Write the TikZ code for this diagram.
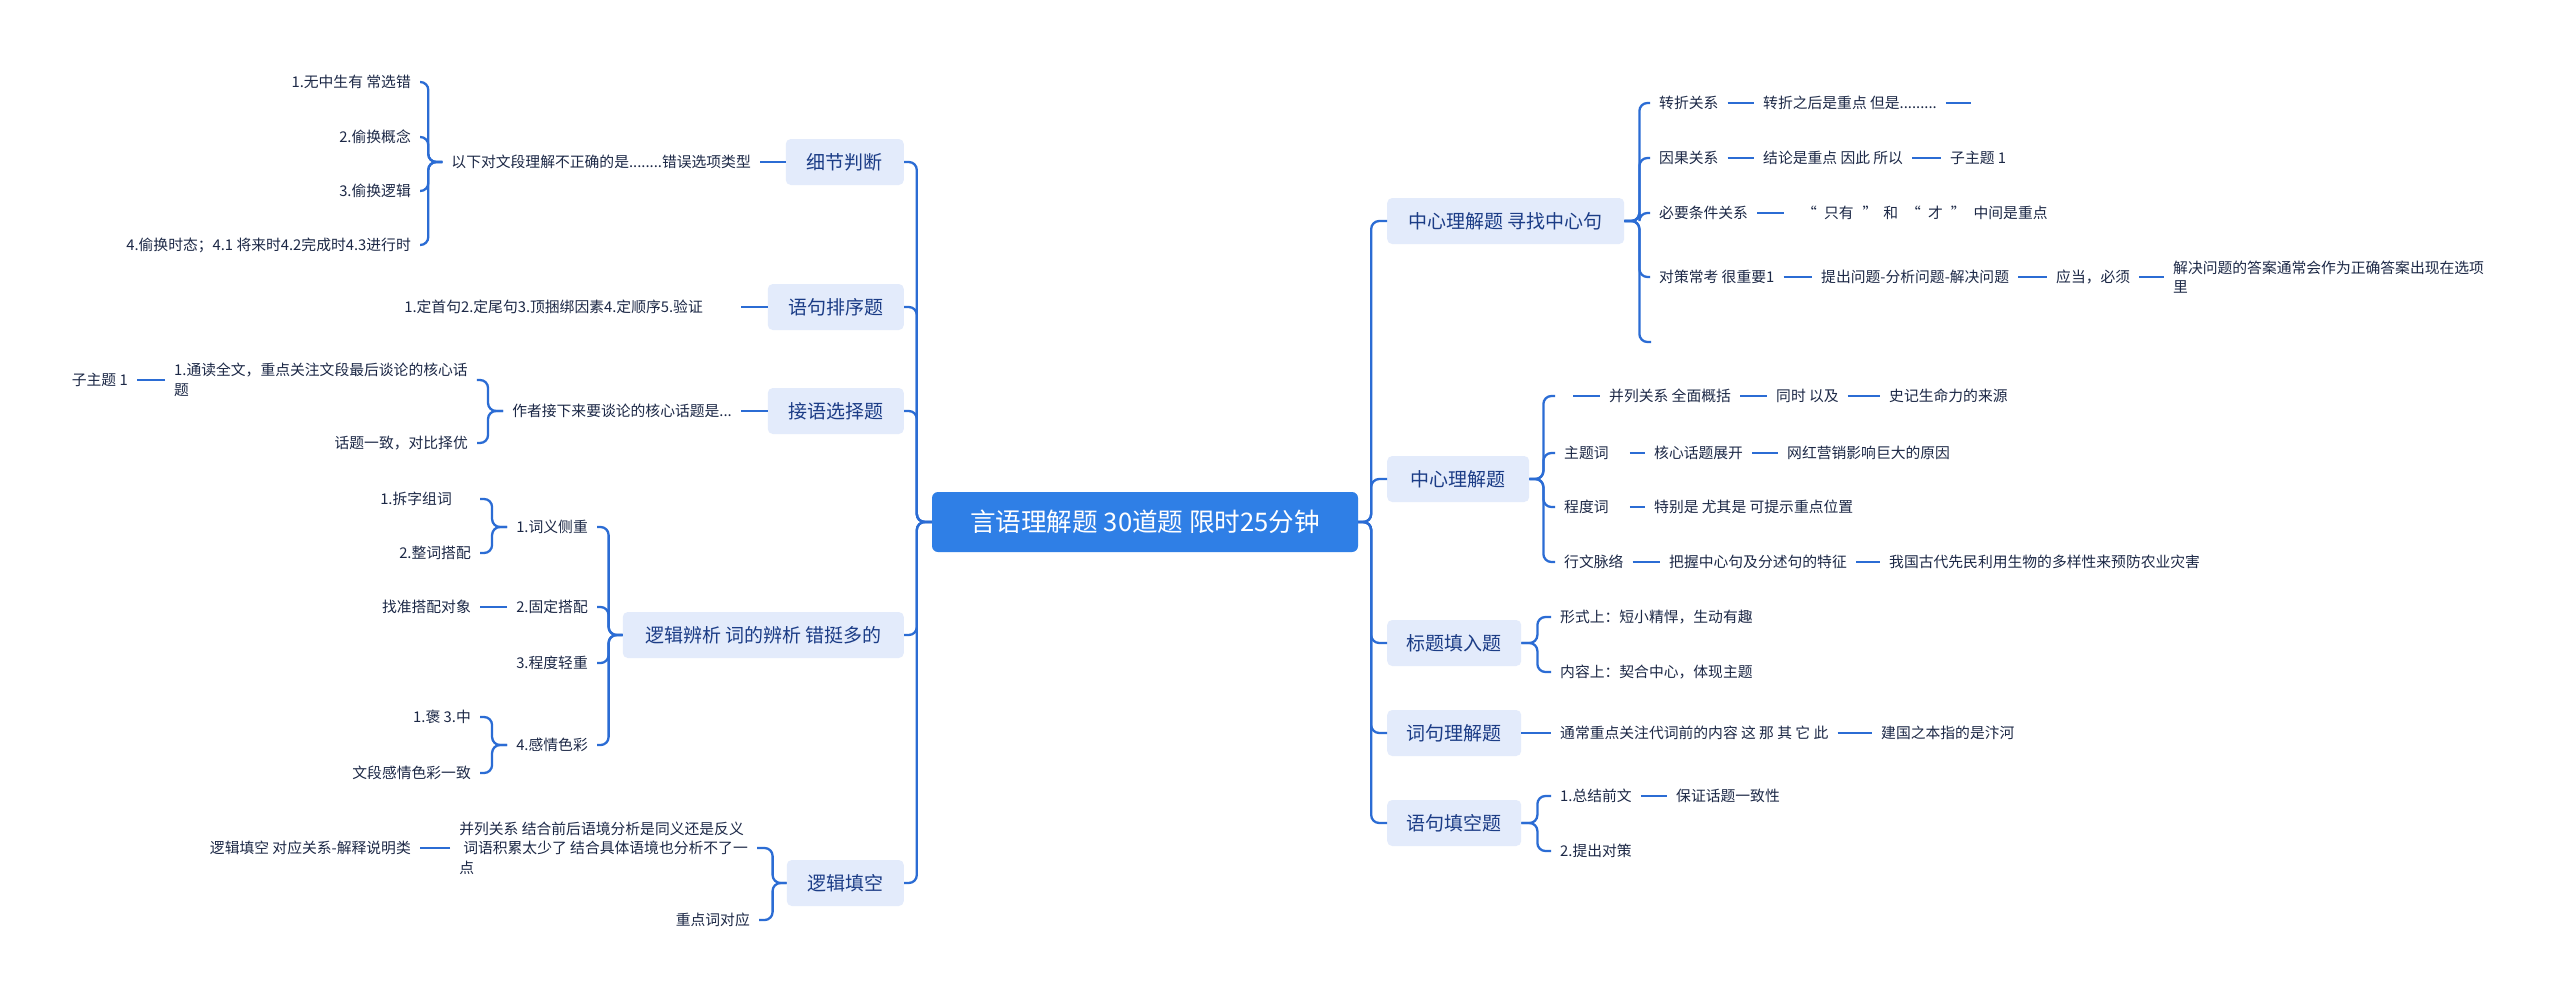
\documentclass[tikz,border=0pt]{standalone}
\usepackage{fontspec}
\setmainfont{Noto Sans CJK SC}
\definecolor{linec}{HTML}{2B6CD4}
\definecolor{boxc}{HTML}{E3EBFB}
\definecolor{rootc}{HTML}{2F7FE6}
\definecolor{mtxt}{HTML}{1B3C86}
\definecolor{txtc}{HTML}{1C2846}
\begin{document}
\begin{tikzpicture}[x=1pt,y=-1pt,
  tx/.style={font=\fontsize{14.8}{19.5}\selectfont, text=txtc, inner xsep=9pt, inner ysep=3pt},
  mbox/.style={fill=boxc, rounded corners=5pt, font=\fontsize{19}{22}\selectfont, text=mtxt, minimum height=46pt, inner xsep=4pt},
  rootbox/.style={fill=rootc, rounded corners=6pt, text=white, font=\fontsize{25.6}{30}\selectfont, minimum width=426pt, minimum height=60pt},
  conn/.style={draw=linec, line width=2.3pt, rounded corners=8pt},
  blank/.style={inner sep=0pt, minimum size=0pt}]
\useasboundingbox (0,0) rectangle (2560,999);
\fill[white] (0,0) rectangle (2560,999);

\node[rootbox] (root) at (1145,522) {言语理解题 30道题 限时25分钟};

% ---------------- left main boxes
\node[mbox, minimum width=118pt, anchor=east] (b1) at (904,162) {细节判断};
\node[mbox, minimum width=136pt, anchor=east] (b2) at (904,307) {语句排序题};
\node[mbox, minimum width=136pt, anchor=east] (b3) at (904,411) {接语选择题};
\node[mbox, minimum width=281pt, anchor=east] (b4) at (904,635) {逻辑辨析 词的辨析 错挺多的};
\node[mbox, minimum width=117pt, anchor=east] (b5) at (904,883) {逻辑填空};
\foreach \b in {b1,b2,b3,b4,b5} \draw[conn] (root.west) -- ++(-15,0) |- (\b.east);

% group b1
\node[tx, anchor=east] (l1) at (760,162) {以下对文段理解不正确的是........错误选项类型};
\draw[conn] (b1.west) -- (l1.east);
\node[tx, anchor=east] (l1a) at (420,82) {1.无中生有 常选错};
\node[tx, anchor=east] (l1b) at (420,137) {2.偷换概念};
\node[tx, anchor=east] (l1c) at (420,191) {3.偷换逻辑};
\node[tx, anchor=east] (l1d) at (420,245) {4.偷换时态；4.1 将来时4.2完成时4.3进行时};
\foreach \c in {l1a,l1b,l1c,l1d} \draw[conn] (l1.west) -- ++(-14,0) |- (\c.east);

% group b2
\node[tx, anchor=east] (l2) at (741,307) {1.定首句2.定尾句3.顶捆绑因素4.定顺序5.验证\hspace*{29pt}};
\draw[conn] (b2.west) -- (l2.east);

% group b3
\node[tx, anchor=east] (l3) at (741,411) {作者接下来要谈论的核心话题是...};
\draw[conn] (b3.west) -- (l3.east);
\node[tx, anchor=west, align=left] (l3a) at (165,380) {1.通读全文，重点关注文段最后谈论的核心话\\题};
\node[tx, anchor=east] (l3b) at (477,443) {话题一致，对比择优};
\foreach \c in {l3a,l3b} \draw[conn] (l3.west) -- ++(-15,0) |- (\c.east);
\node[tx, anchor=east] (l3aa) at (137,380) {子主题 1};
\draw[conn] (l3a.west) -- (l3aa.east);

% group b4
\node[tx, anchor=east] (l4a) at (597,527) {1.词义侧重};
\node[tx, anchor=east] (l4b) at (597,607) {2.固定搭配};
\node[tx, anchor=east] (l4c) at (597,663) {3.程度轻重};
\node[tx, anchor=east] (l4d) at (597,745) {4.感情色彩};
\foreach \c in {l4a,l4b,l4c,l4d} \draw[conn] (b4.west) -- ++(-14,0) |- (\c.east);
\node[tx, anchor=east] (l4aa) at (480,499) {1.拆字组词\hspace*{19pt}};
\node[tx, anchor=east] (l4ab) at (480,553) {2.整词搭配};
\foreach \c in {l4aa,l4ab} \draw[conn] (l4a.west) -- ++(-15,0) |- (\c.east);
\node[tx, anchor=east] (l4ba) at (480,607) {找准搭配对象};
\draw[conn] (l4b.west) -- (l4ba.east);
\node[tx, anchor=east] (l4da) at (480,717) {1.褒 3.中};
\node[tx, anchor=east] (l4db) at (480,773) {文段感情色彩一致};
\foreach \c in {l4da,l4db} \draw[conn] (l4d.west) -- ++(-15,0) |- (\c.east);

% group b5
\node[tx, anchor=east, align=left] (l5a) at (757,848) {并列关系 结合前后语境分析是同义还是反义\\\hspace*{4pt}词语积累太少了 结合具体语境也分析不了一\\点};
\node[tx, anchor=east] (l5b) at (759,920) {重点词对应};
\foreach \c in {l5a,l5b} \draw[conn] (b5.west) -- ++(-14,0) |- (\c.east);
\node[tx, anchor=east] (l5aa) at (420,848) {逻辑填空 对应关系-解释说明类};
\draw[conn] (l5a.west) -- (l5aa.east);

% ---------------- right main boxes
\node[mbox, minimum width=237pt, anchor=west] (rA) at (1387,221) {中心理解题 寻找中心句};
\node[mbox, minimum width=142pt, anchor=west] (rB) at (1387,479) {中心理解题};
\node[mbox, minimum width=134pt, anchor=west] (rC) at (1387,643) {标题填入题};
\node[mbox, minimum width=134pt, anchor=west] (rD) at (1387,733) {词句理解题};
\node[mbox, minimum width=134pt, anchor=west] (rE) at (1387,823) {语句填空题};
\foreach \b in {rA,rB,rC,rD,rE} \draw[conn] (root.east) -- ++(13,0) |- (\b.west);

% group A
\node[tx, anchor=west] (r1) at (1650,103) {转折关系};
\node[tx, anchor=west] (r1a) at (1754,103) {转折之后是重点 但是.........};
\node[blank, anchor=west] (r1b) at (1971,103) {};
\draw[conn] (r1.east) -- (r1a.west);
\draw[conn] (r1a.east) -- (r1b.west);
\node[tx, anchor=west] (r2) at (1650,158) {因果关系};
\node[tx, anchor=west] (r2a) at (1754,158) {结论是重点 因此 所以};
\node[tx, anchor=west] (r2b) at (1941,158) {子主题 1};
\draw[conn] (r2.east) -- (r2a.west);
\draw[conn] (r2a.east) -- (r2b.west);
\node[tx, anchor=west] (r3) at (1650,213) {必要条件关系};
\node[tx, anchor=west] (r3a) at (1784,213) {\hspace*{9pt}“\hspace{7pt}只有\hspace{9pt}”\hspace{6pt}和\hspace{8pt}“\hspace{7pt}才\hspace{8pt}”\hspace{8pt}中间是重点};
\draw[conn] (r3.east) -- (r3a.west);
\node[tx, anchor=west] (r4) at (1650,277) {对策常考 很重要1};
\node[tx, anchor=west] (r4a) at (1812,277) {提出问题-分析问题-解决问题};
\node[tx, anchor=west] (r4b) at (2047,277) {应当，必须};
\node[tx, anchor=west, align=left] (r4c) at (2164,277) {解决问题的答案通常会作为正确答案出现在选项\\里};
\draw[conn] (r4.east) -- (r4a.west);
\draw[conn] (r4a.east) -- (r4b.west);
\draw[conn] (r4b.east) -- (r4c.west);
\coordinate (r5) at (1651,342);
\foreach \c in {r1,r2,r3,r4} \draw[conn] (rA.east) -- ++(15,0) |- (\c.west);
\draw[conn] (rA.east) -- ++(15,0) |- (r5);

% group B
\node[blank, minimum width=18pt, anchor=west] (s1) at (1555,396) {};
\node[tx, anchor=west] (s1a) at (1600,396) {并列关系 全面概括};
\node[tx, anchor=west] (s1b) at (1767,396) {同时 以及};
\node[tx, anchor=west] (s1c) at (1880,396) {史记生命力的来源};
\draw[conn] (s1.east) -- (s1a.west);
\draw[conn] (s1a.east) -- (s1b.west);
\draw[conn] (s1b.east) -- (s1c.west);
\node[tx, anchor=west] (s2) at (1555,453) {主题词\hspace*{12pt}};
\node[tx, anchor=west] (s2a) at (1645,453) {核心话题展开};
\node[tx, anchor=west] (s2b) at (1778,453) {网红营销影响巨大的原因};
\draw[conn] (s2.east) -- (s2a.west);
\draw[conn] (s2a.east) -- (s2b.west);
\node[tx, anchor=west] (s3) at (1555,507) {程度词\hspace*{12pt}};
\node[tx, anchor=west] (s3a) at (1645,507) {特别是 尤其是 可提示重点位置};
\draw[conn] (s3.east) -- (s3a.west);
\node[tx, anchor=west] (s4) at (1555,562) {行文脉络};
\node[tx, anchor=west] (s4a) at (1660,562) {把握中心句及分述句的特征};
\node[tx, anchor=west] (s4b) at (1880,562) {我国古代先民利用生物的多样性来预防农业灾害};
\draw[conn] (s4.east) -- (s4a.west);
\draw[conn] (s4a.east) -- (s4b.west);
\foreach \c in {s1,s2,s3,s4} \draw[conn] (rB.east) -- ++(14,0) |- (\c.west);

% group C
\node[tx, anchor=west] (c1) at (1551,617) {形式上：短小精悍，生动有趣};
\node[tx, anchor=west] (c2) at (1551,672) {内容上：契合中心，体现主题};
\foreach \c in {c1,c2} \draw[conn] (rC.east) -- ++(16,0) |- (\c.west);

% group D
\node[tx, anchor=west] (d1) at (1551,733) {通常重点关注代词前的内容 这 那 其 它 此};
\node[tx, anchor=west] (d2) at (1872,733) {建国之本指的是汴河};
\draw[conn] (rD.east) -- (d1.west);
\draw[conn] (d1.east) -- (d2.west);

% group E
\node[tx, anchor=west] (e1) at (1551,796) {1.总结前文};
\node[tx, anchor=west] (e1a) at (1667,796) {保证话题一致性};
\node[tx, anchor=west] (e2) at (1551,851) {2.提出对策};
\draw[conn] (e1.east) -- (e1a.west);
\foreach \c in {e1,e2} \draw[conn] (rE.east) -- ++(16,0) |- (\c.west);
\end{tikzpicture}
\end{document}
